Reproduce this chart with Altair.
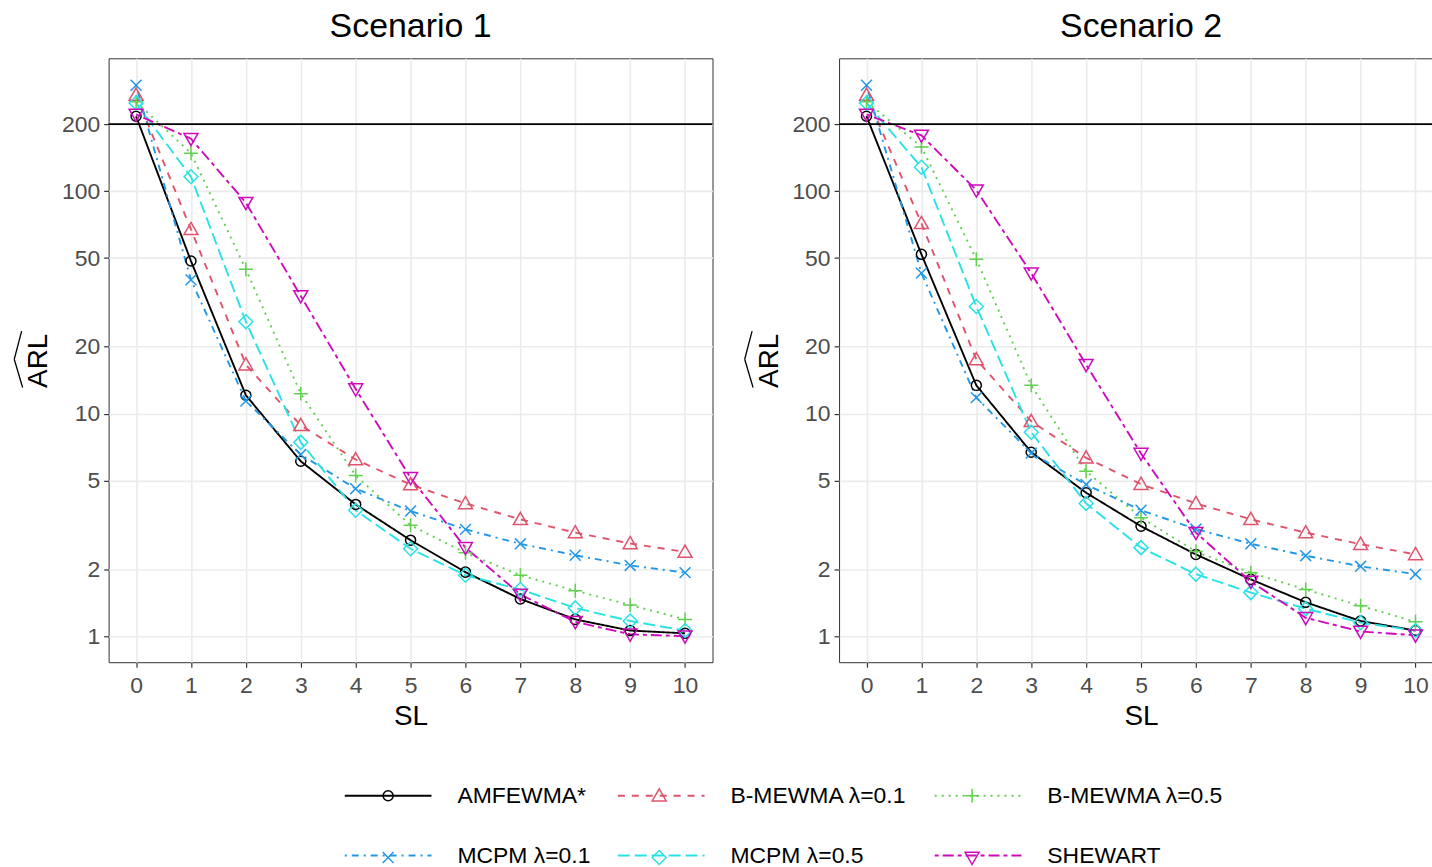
import altair as alt
import pandas as pd

# ---------------- data ----------------
SL = list(range(11))
METHODS = ["AMFEWMA*", "B-MEWMA λ=0.1", "B-MEWMA λ=0.5", "MCPM λ=0.1", "MCPM λ=0.5", "SHEWART"]

S1_AMFEWMA = [217, 48.5, 12.1, 6.11, 3.91, 2.70, 1.94, 1.47, 1.19, 1.06, 1.03]
S1_BMEWMA01 = [270, 67.3, 16.6, 8.86, 6.22, 4.80, 3.95, 3.35, 2.92, 2.61, 2.39]
S1_BMEWMA05 = [252, 148, 44.5, 12.3, 5.27, 3.15, 2.37, 1.88, 1.60, 1.38, 1.19]
S1_MCPM01 = [299, 39.9, 11.4, 6.55, 4.60, 3.65, 3.02, 2.60, 2.31, 2.08, 1.93]
S1_MCPM05 = [249, 116, 25.9, 7.43, 3.68, 2.47, 1.88, 1.62, 1.34, 1.17, 1.06]
S1_SHEWART = [221, 172, 88.7, 33.8, 12.9, 5.15, 2.50, 1.54, 1.16, 1.02, 1.00]

S2_AMFEWMA = [217, 52.0, 13.4, 6.71, 4.41, 3.12, 2.33, 1.80, 1.42, 1.17, 1.06]
S2_BMEWMA01 = [270, 71.6, 17.5, 9.24, 6.33, 4.82, 3.95, 3.35, 2.92, 2.59, 2.33]
S2_BMEWMA05 = [252, 158, 49.4, 13.4, 5.51, 3.41, 2.40, 1.93, 1.62, 1.37, 1.16]
S2_MCPM01 = [299, 42.8, 11.8, 6.65, 4.80, 3.68, 3.03, 2.60, 2.30, 2.06, 1.90]
S2_MCPM05 = [249, 128, 30.3, 8.25, 3.95, 2.50, 1.90, 1.57, 1.33, 1.15, 1.06]
S2_SHEWART = [221, 178, 101, 42.8, 16.6, 6.62, 2.92, 1.76, 1.21, 1.05, 1.01]

ARL0 = [200]
Y_TICKS = [1, 2, 5, 10, 20, 50, 100, 200]
SCENARIOS = ["Scenario 1", "Scenario 2"]
SERIES = {
    "Scenario 1": [S1_AMFEWMA, S1_BMEWMA01, S1_BMEWMA05, S1_MCPM01, S1_MCPM05, S1_SHEWART],
    "Scenario 2": [S2_AMFEWMA, S2_BMEWMA01, S2_BMEWMA05, S2_MCPM01, S2_MCPM05, S2_SHEWART],
}

# ---------------- styles ----------------
FONT = "Liberation Sans"
COLORS = ["#000000", "#DF536B", "#61D04F", "#2297E6", "#28E2E5", "#CD0BBC"]
DASHES = [[1, 0], [7, 7], [2, 5], [2, 5, 7, 5], [12, 5], [4, 4, 11, 4]]
SHAPES = [
    "M0.72,0A0.72,0.72,0,1,1,-0.72,0A0.72,0.72,0,1,1,0.72,0Z",
    "M0,-1L1,0.75L-1,0.75Z",
    "M-1,0L1,0M0,-1L0,1",
    "M-0.78,-0.78L0.78,0.78M-0.78,0.78L0.78,-0.78",
    "M0,-1L1,0L0,1L-1,0Z",
    "M0,1L1,-0.75L-1,-0.75Z",
]
# marker legend uses a separate (invisible-suffix) key so it is not merged with the line legend
METHODS_KEY = [m + "\u200b" for m in METHODS]

W = 606
H = 606
LINE_W = 1.9
PT_SIZE = 196
KEY_LEN = 87

LEG_FS = 23
LEG_X = 236
LEG_Y = 729
LEG_LABEL_OFFSET = 25
LEG_COL_PAD = 26
LEG_CLIP = 22
LEG_ROW_PAD = 59 - LEG_CLIP
LINE_KEY_W = KEY_LEN + 2          # ceil(sqrt(size) + strokeWidth)
PT_FS = 25                        # font of the blank spacer labels of the marker legend
PT_KEY_W = PT_FS                  # max(symbol, label font size)
NBSP = "\u00a0"
ZW = "\u200b"
SPACER_COUNTS = [19, 25, 1]       # blank widths matching the widest label of each legend column


def blank(n):
    # zero-width guards keep the blank run from being trimmed away
    return ZW + NBSP * n + ZW


def spacer_expr():
    parts = []
    for col, n in enumerate(SPACER_COUNTS[:2]):
        keys = [METHODS_KEY[i] for i in range(len(METHODS_KEY)) if i % 3 == col]
        cond = " || ".join("datum.value == '" + k + "'" for k in keys)
        parts.append("(" + cond + ") ? '" + blank(n) + "' : ")
    return "".join(parts) + "'" + blank(SPACER_COUNTS[2]) + "'"


def long_df(scen):
    rows = []
    for m, mk, vals in zip(METHODS, METHODS_KEY, SERIES[scen]):
        for s, v in zip(SL, vals):
            rows.append({"SL": s, "ARL": v, "method": m, "mkey": mk})
    return pd.DataFrame(rows)


legend_lines = alt.Legend(
    title=None, orient="none", legendX=LEG_X, legendY=LEG_Y, columns=3, direction="horizontal",
    symbolType="stroke", symbolSize=KEY_LEN * KEY_LEN, symbolStrokeWidth=LINE_W,
    labelFont=FONT, labelFontSize=LEG_FS, labelColor="#000000", labelLimit=500,
    labelOffset=LEG_LABEL_OFFSET, columnPadding=LEG_COL_PAD, rowPadding=LEG_ROW_PAD,
    clipHeight=LEG_CLIP,
)
legend_pts = alt.Legend(
    title=None, orient="none", legendX=LEG_X + (LINE_KEY_W - PT_KEY_W) / 2, legendY=LEG_Y,
    columns=3, direction="horizontal", symbolSize=PT_SIZE, symbolStrokeWidth=1.5,
    labelFont=FONT, labelFontSize=PT_FS, labelExpr=spacer_expr(), labelLimit=500,
    labelOffset=LEG_LABEL_OFFSET + (LINE_KEY_W - PT_KEY_W), columnPadding=LEG_COL_PAD,
    rowPadding=LEG_ROW_PAD, clipHeight=LEG_CLIP,
)


def panel(scen):
    df = long_df(scen)
    x = alt.X("SL:Q", scale=alt.Scale(domain=[-0.5, 10.5], nice=False, zero=False),
              axis=alt.Axis(values=SL, format="d", title="SL"))
    y = alt.Y("ARL:Q", scale=alt.Scale(type="log", domain=[0.764, 395], nice=False),
              axis=alt.Axis(values=Y_TICKS, format="d", title="ARL",
                            titleX=-70, titleY=H / 2, titleBaseline="middle",
                            titleAlign="center"))
    base = alt.Chart(df)
    lines = base.mark_line(strokeWidth=LINE_W).encode(
        x=x, y=y,
        color=alt.Color("method:N", scale=alt.Scale(domain=METHODS, range=COLORS),
                        legend=legend_lines),
        strokeDash=alt.StrokeDash("method:N", scale=alt.Scale(domain=METHODS, range=DASHES),
                                  legend=legend_lines),
        order="SL:Q",
    )
    pts = base.mark_point(filled=False, strokeWidth=1.5, size=PT_SIZE, opacity=1).encode(
        x=x, y=y,
        stroke=alt.Stroke("mkey:N", scale=alt.Scale(domain=METHODS_KEY, range=COLORS),
                          legend=legend_pts),
        shape=alt.Shape("mkey:N", scale=alt.Scale(domain=METHODS_KEY, range=SHAPES),
                        legend=legend_pts),
    )
    rule = alt.Chart(pd.DataFrame({"ARL": ARL0})).mark_rule(
        color="#000000", strokeWidth=LINE_W).encode(y=alt.Y("ARL:Q"))
    hat1 = alt.Chart(pd.DataFrame({"k": [0]})).mark_rule(color="#000000", strokeWidth=1.3).encode(
        x=alt.value(-87.3), y=alt.value(273.7), x2=alt.value(-94.7), y2=alt.value(302))
    hat2 = alt.Chart(pd.DataFrame({"k": [0]})).mark_rule(color="#000000", strokeWidth=1.3).encode(
        x=alt.value(-94.7), y=alt.value(302), x2=alt.value(-86.3), y2=alt.value(330.3))
    return alt.layer(lines, pts, rule, hat1, hat2).properties(
        width=W, height=H,
        title=alt.TitleParams(scen, fontSize=34, font=FONT, fontWeight="normal",
                              anchor="middle", color="#000000", offset=14),
    )


chart = alt.hconcat(*[panel(s) for s in SCENARIOS], spacing=29).properties(
    padding={"left": 13, "top": 8, "right": -13, "bottom": 0}
).configure_view(
    stroke="#333333", strokeWidth=1
).configure_axis(
    grid=True, gridColor="#EBEBEB", gridWidth=1.6, domain=False,
    tickColor="#333333", tickSize=5, tickWidth=1.2,
    labelColor="#4D4D4D", labelFont=FONT, labelFontSize=23, labelPadding=4,
    titleFont=FONT, titleFontSize=28, titleFontWeight="normal", titleColor="#000000",
).configure_axisX(
    labelPadding=7, titlePadding=6
)

chart.save("out.html", embed_options={"renderer": "svg", "actions": False})
